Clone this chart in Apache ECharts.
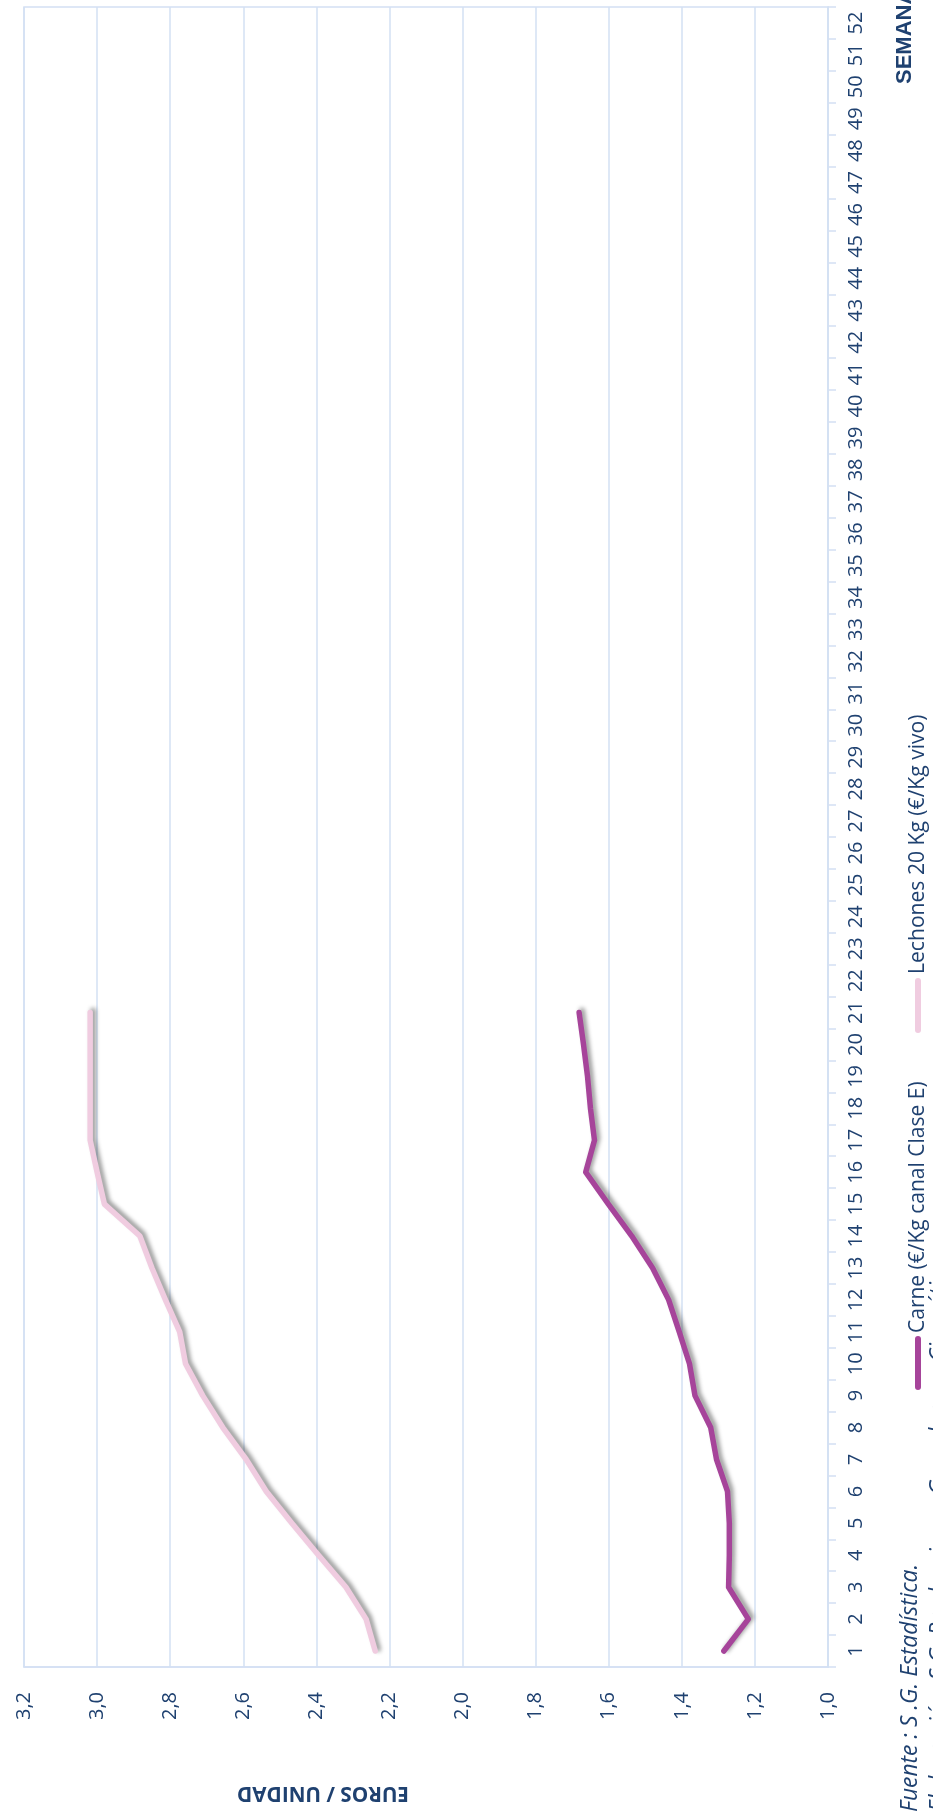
<!DOCTYPE html>
<html>
<head>
<meta charset="utf-8">
<script src="https://cdn.jsdelivr.net/npm/echarts@6/dist/echarts.min.js"></script>
<style>
html,body{margin:0;padding:0;background:#fff;}
#chart{width:933px;height:1813px;}
</style>
</head>
<body>
<div id="chart"></div>
<script>
// Weeks (categories)
const weeks = Array.from({length: 52}, (_, i) => String(i + 1));
// Carne (€/Kg canal Clase E), weeks 1-21
const carne = [1.285, 1.218, 1.272, 1.270, 1.270, 1.275, 1.305, 1.321, 1.364, 1.379,
               1.407, 1.436, 1.480, 1.537, 1.601, 1.663, 1.639, 1.650, 1.658, 1.669, 1.681];
// Lechones 20 Kg (€/Kg vivo), weeks 1-21
const lechones = [2.239, 2.264, 2.319, 2.394, 2.467, 2.537, 2.592, 2.656, 2.711, 2.758,
                  2.774, 2.813, 2.850, 2.883, 2.980, 3.000, 3.019, 3.019, 3.019, 3.019, 3.019];
const seriesNames = ['Carne (€/Kg canal Clase E)', 'Lechones 20 Kg (€/Kg vivo)'];
const axisTitleValue = 'EUROS / UNIDAD';
const axisTitleCat = 'SEMANA';
const sourceLine1 = 'Fuente : S .G. Estadística.';
const sourceLine2 = 'Elaboración: S.G. Producciones Ganaderas y Cinegéticas.';

const colCarne = '#A6449A';
const colLech = '#F0CCE0';
const txt = '#1f4170';
const gridCol = '#d3e0f3';
const FAM = '"Open Sans", "Noto Sans", sans-serif';

// pick a font size so that a text spans a given length
const mctx = document.createElement('canvas').getContext('2d');
function fit(text, prefix, target) {
  mctx.font = prefix + ' 20px ' + FAM;
  const w = mctx.measureText(text).width;
  const s = Math.max(12, Math.min(26, 20 * target / w));
  return prefix + ' ' + s.toFixed(1) + 'px ' + FAM;
}
const fSource = fit(sourceLine1, 'italic', 248);
const fCarne = fit(seriesNames[0], 'normal', 252);
const fLech = fit(seriesNames[1], 'normal', 259);
const fTitle = fit(axisTitleValue, 'bold', 172);

const chart = echarts.init(document.getElementById('chart'), null, {renderer: 'canvas'});
const shadow = {shadowColor: 'rgba(0,0,0,0.4)', shadowBlur: 4, shadowOffsetX: 3, shadowOffsetY: -2};

chart.setOption({
  animation: false,
  backgroundColor: '#fff',
  grid: {left: 24, right: 105, top: 7, bottom: 146, show: true, borderColor: gridCol, borderWidth: 1.5, containLabel: false},
  xAxis: {
    type: 'value', inverse: true, min: 1.0, max: 3.2, interval: 0.2, position: 'bottom',
    axisLine: {show: true, lineStyle: {color: gridCol, width: 1.5}},
    axisTick: {show: false},
    splitLine: {show: true, lineStyle: {color: gridCol, width: 1.5}},
    axisLabel: {rotate: 90, margin: 25, color: txt, fontSize: 20, fontFamily: FAM,
      formatter: v => v.toFixed(1).replace('.', ',')}
  },
  yAxis: {
    type: 'category', data: weeks, position: 'right', boundaryGap: true,
    axisLine: {show: true, lineStyle: {color: gridCol, width: 1.5}},
    axisTick: {show: true, length: 8, lineStyle: {color: gridCol, width: 1.5}},
    splitLine: {show: false},
    axisLabel: {rotate: 90, interval: 0, margin: 18, color: txt, fontSize: 20, fontFamily: FAM}
  },
  series: [
    {name: seriesNames[0], type: 'line', data: carne, showSymbol: false, symbol: 'none',
     lineStyle: Object.assign({color: colCarne, width: 5.5, cap: 'round', join: 'round'}, shadow),
     itemStyle: {color: colCarne}},
    {name: seriesNames[1], type: 'line', data: lechones, showSymbol: false, symbol: 'none',
     lineStyle: Object.assign({color: colLech, width: 5.5, cap: 'round', join: 'round'}, shadow),
     itemStyle: {color: colLech}}
  ],
  graphic: [
    {type: 'text', x: 323, y: 1793, rotation: Math.PI,
     style: {text: axisTitleValue, fill: txt, font: fTitle, align: 'center', verticalAlign: 'middle'}},
    {type: 'text', x: 905, y: 84, rotation: Math.PI / 2,
     style: {text: axisTitleCat, fill: txt, font: 'bold 22px "Liberation Sans", Arial, sans-serif', align: 'left', verticalAlign: 'middle'}},
    // legend
    {type: 'line', shape: {x1: 918, y1: 1387, x2: 918, y2: 1339}, style: {stroke: colCarne, lineWidth: 6, lineCap: 'round'}},
    {type: 'text', x: 918, y: 1333, rotation: Math.PI / 2,
     style: {text: seriesNames[0], fill: txt, font: fCarne, align: 'left', verticalAlign: 'middle'}},
    {type: 'line', shape: {x1: 918, y1: 1030, x2: 918, y2: 981}, style: {stroke: colLech, lineWidth: 6, lineCap: 'round'}},
    {type: 'text', x: 918, y: 974, rotation: Math.PI / 2,
     style: {text: seriesNames[1], fill: txt, font: fLech, align: 'left', verticalAlign: 'middle'}},
    // source
    {type: 'text', x: 911, y: 1812, rotation: Math.PI / 2,
     style: {text: sourceLine1, fill: txt, font: fSource, align: 'left', verticalAlign: 'middle'}},
    {type: 'text', x: 940, y: 1812, rotation: Math.PI / 2,
     style: {text: sourceLine2, fill: txt, font: fSource, align: 'left', verticalAlign: 'middle'}}
  ]
});
</script>
</body>
</html>
